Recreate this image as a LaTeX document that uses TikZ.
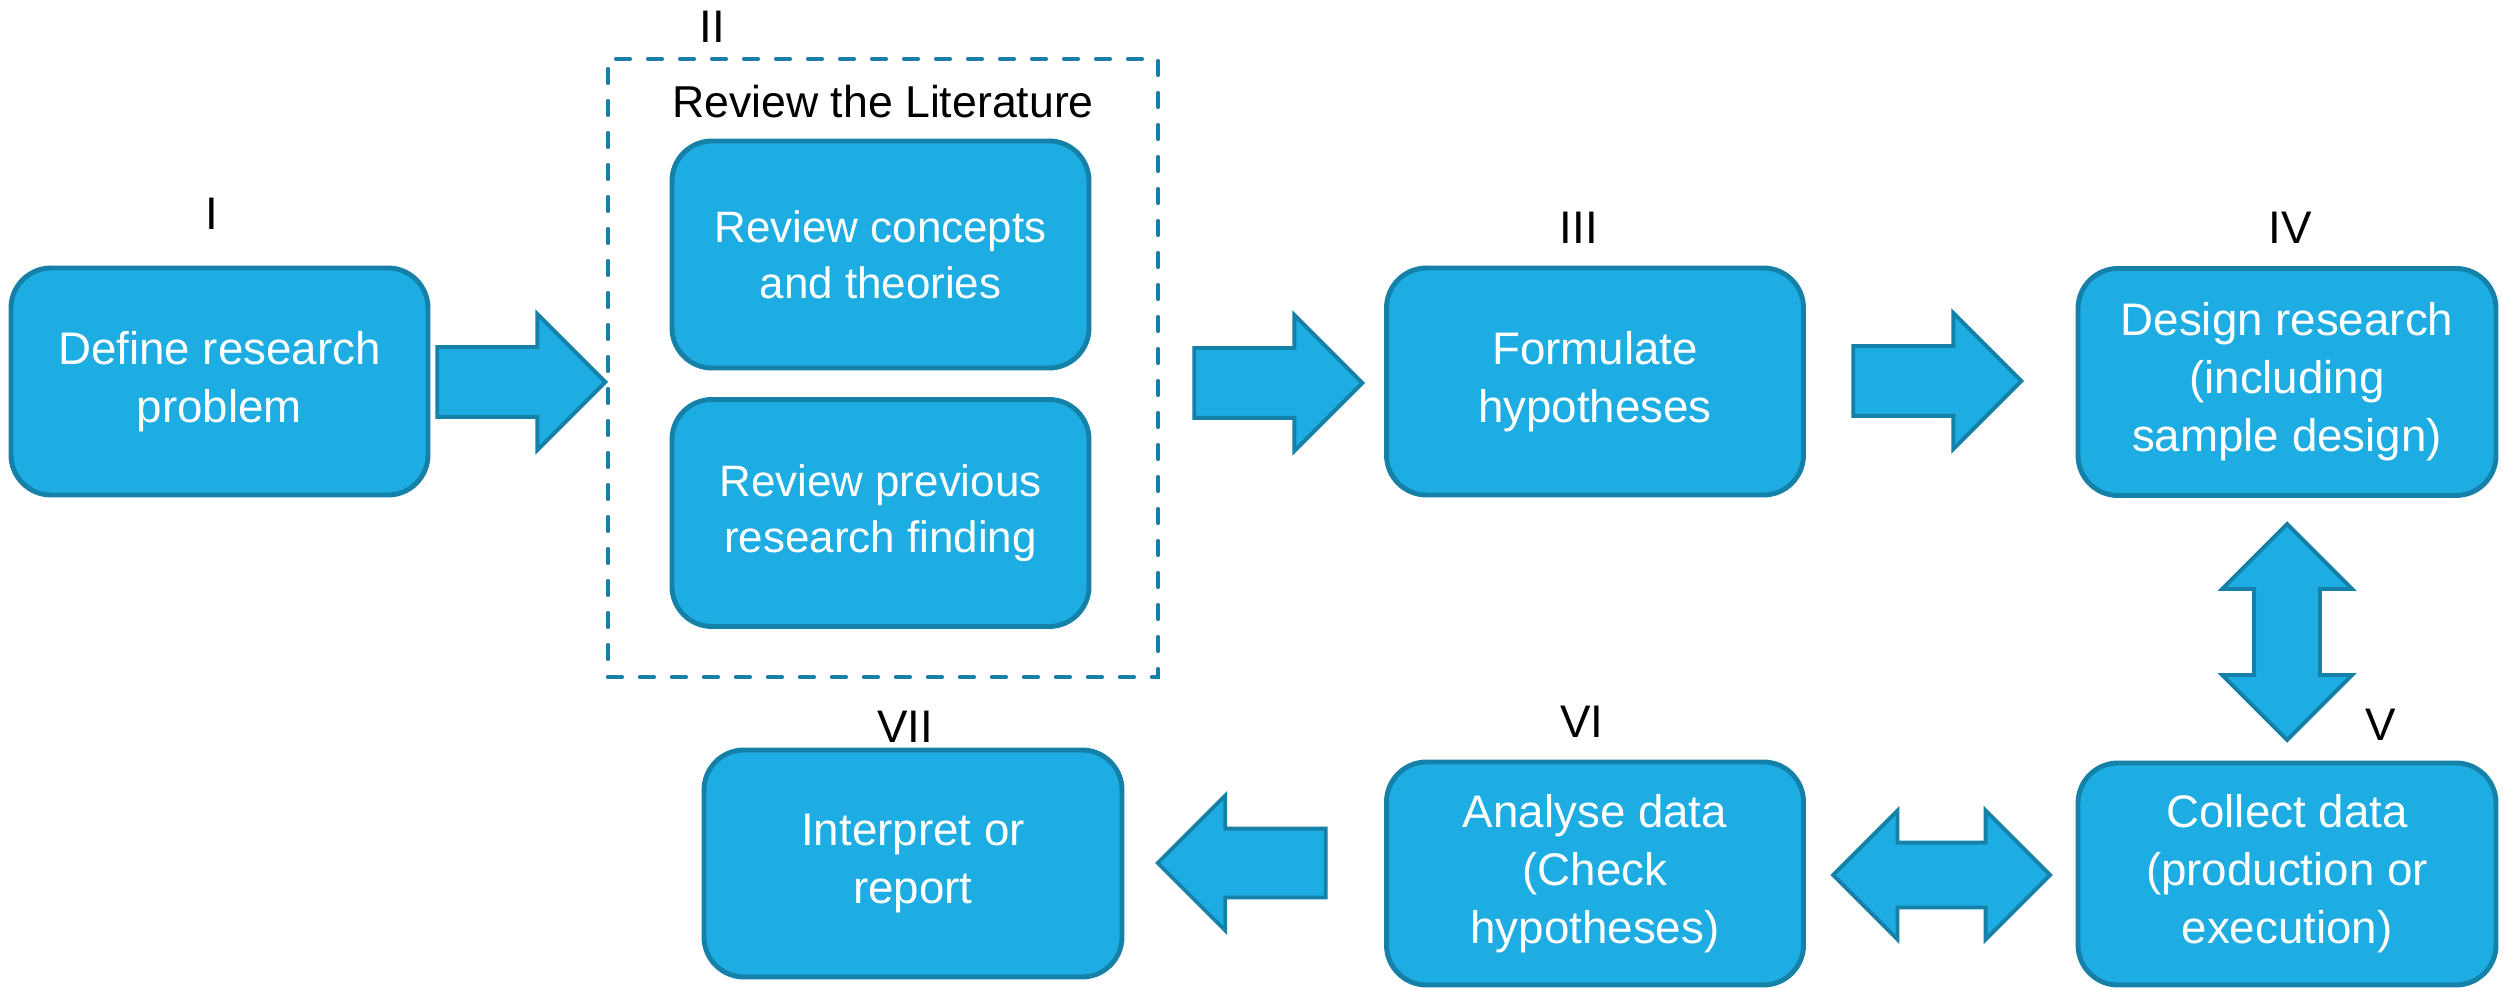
\documentclass[tikz,border=0pt]{standalone}
\usepackage{fontspec}
\setmainfont{Liberation Sans}
\usetikzlibrary{shapes.arrows}

\definecolor{boxblue}{RGB}{30,173,227}
\definecolor{edgeblue}{RGB}{21,128,168}

\tikzset{
  stepbox/.style={draw=edgeblue, fill=boxblue, line width=1.4pt, rounded corners=0.4cm,
    text=white, align=center, minimum width=4.17cm, minimum height=2.27cm,
    font=\fontsize{13}{16.5}\selectfont},
  numlabel/.style={font=\fontsize{13}{15}\selectfont},
  fatarrow/.style={single arrow, draw=edgeblue, fill=boxblue, line width=1.1pt,
    inner xsep=0pt, inner ysep=0.33cm, single arrow head extend=0.33cm,
    minimum width=1.32cm, minimum height=1.68cm, anchor=tip},
  fatboth/.style={double arrow, draw=edgeblue, fill=boxblue, line width=1.1pt,
    inner xsep=0pt, inner ysep=0.305cm, double arrow head extend=0.32cm,
    minimum width=1.25cm, minimum height=2.17cm}
}

\begin{document}
\begin{tikzpicture}[x=1cm, y=-1cm]

      \useasboundingbox (0,0) rectangle (25.03,9.88);

      \node (litframe) [draw=edgeblue, line width=1.2pt, dash pattern=on 0.14cm off 0.18cm,
        line cap=round, minimum width=5.5cm, minimum height=6.18cm] at (8.83,3.68) {};

      \begin{scope}[every node/.style={stepbox}]
        \node (def) at (2.195,3.815) {Define research\\problem};
        \node (conc) [font=\fontsize{12.5}{16}\selectfont] at (8.805,2.545) {Review concepts\\and theories};
        \node (prev) [font=\fontsize{12.5}{16}\selectfont] at (8.805,5.13) {Review previous\\research finding};
        \node (hyp) at (15.95,3.815) {Formulate\\hypotheses};
        \node (des) [minimum width=4.18cm] at (22.87,3.82) {Design research\\(including\\sample design)};
        \node (col) [minimum width=4.18cm, minimum height=2.22cm] at (22.87,8.74) {Collect data\\(production or\\execution)};
        \node (ana) [minimum height=2.23cm] at (15.95,8.735) {Analyse data\\(Check\\hypotheses)};
        \node (rep) [minimum width=4.18cm] at (9.13,8.635) {Interpret or\\report};
      \end{scope}

      \begin{scope}[every node/.style={numlabel}]
        \node (n1) at (2.12,2.14) {I};
        \node (n2) at (7.12,0.27) {II};
        \node (littitle) [font=\fontsize{12.7}{15}\selectfont] at (8.83,1.02) {Review the Literature};
        \node (n3) at (15.79,2.28) {III};
        \node (n4) at (22.9,2.28) {IV};
        \node (n5) at (23.81,7.25) {V};
        \node (n6) at (15.82,7.22) {VI};
        \node (n7) at (9.05,7.27) {VII};
      \end{scope}

      \node (a12) [fatarrow] at (6.08,3.82) {};
      \node (a23) [fatarrow] at (13.65,3.83) {};
      \node (a34) [fatarrow] at (20.24,3.81) {};
      \node (a45) [fatboth, rotate=90, minimum width=1.26cm, inner ysep=0.31cm, minimum height=2.16cm] at (22.87,6.32) {};
      \node (a56) [fatboth] at (19.415,8.75) {};
      \node (a67) [fatarrow, rotate=180, inner ysep=0.325cm] at (11.55,8.63) {};

    \end{tikzpicture}
\end{document}
